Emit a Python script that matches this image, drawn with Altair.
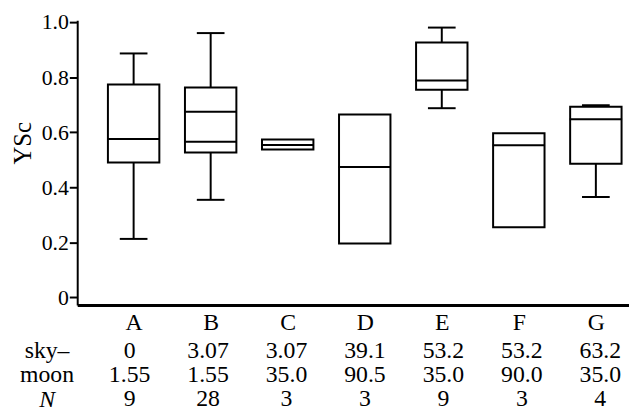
import altair as alt
import pandas as pd

cats = ["A", "B", "C", "D", "E", "F", "G"]
q1 = [0.490, 0.526, 0.537, 0.195, 0.754, 0.254, 0.485]
q3 = [0.773, 0.762, 0.573, 0.664, 0.926, 0.596, 0.692]
med = [0.575, 0.565, 0.553, 0.473, 0.788, 0.552, 0.647]
mean = [None, 0.674, None, None, None, None, None]
wlo = [0.212, 0.354, None, None, 0.687, None, 0.364]
whi = [0.886, 0.960, None, None, 0.980, None, 0.698]
sky = ["0", "3.07", "3.07", "39.1", "53.2", "53.2", "63.2"]
moon = ["1.55", "1.55", "35.0", "90.5", "35.0", "90.0", "35.0"]
nobs = ["9", "28", "3", "3", "9", "3", "4"]
row_names = ["sky–", "moon", "N"]
y_ticks = [0, 0.2, 0.4, 0.6, 0.8, 1.0]

FONT = "Liberation Serif"
pos = list(range(1, len(cats) + 1))
df = pd.DataFrame({"pos": pos, "cat": cats, "q1": q1, "q3": q3, "med": med,
                   "mean": mean, "wlo": wlo, "whi": whi})

rows = []
for i, p in enumerate(pos):
    for name, vals in zip(row_names, [sky, moon, nobs]):
        rows.append({"pos": p, "row": name, "val": vals[i]})
tdf = pd.DataFrame(rows)

W = 558
xs = alt.Scale(domain=[0.332, 7.366], nice=False, zero=False)
ys = alt.Scale(domain=[-0.028, 1.007], nice=False, zero=False)

label_expr = "[" + ",".join("'%s'" % c for c in cats) + "][datum.value - 1]"
xaxis = alt.Axis(values=pos, labelExpr=label_expr, ticks=False, grid=False,
                 domainWidth=3, domainColor="black", labelPadding=6,
                 labelFont=FONT, labelFontSize=24, labelColor="black", title=None)
yaxis = alt.Axis(values=y_ticks, grid=False, domainWidth=2, domainColor="black",
                 tickWidth=2, tickSize=8, tickColor="black", labelPadding=1,
                 labelFont=FONT, labelFontSize=22, labelColor="black",
                 labelExpr="datum.value == 0 ? '0' : format(datum.value, '.1f')",
                 title="YSc", titleFont=FONT, titleFontSize=25, titleFontWeight="normal",
                 titleColor="black", titlePadding=6, titleY=124)

base = alt.Chart(df).encode(x=alt.X("pos:Q", scale=xs, axis=xaxis))

box = base.mark_bar(size=52, fill="white", stroke="black", strokeWidth=2, opacity=1).encode(
    y=alt.Y("q1:Q", scale=ys, axis=yaxis, title="YSc"), y2="q3:Q")
med_l = base.mark_tick(orient="horizontal", size=53, thickness=2, color="black", opacity=1).encode(
    y=alt.Y("med:Q", title="YSc"))
mean_l = base.transform_filter("isValid(datum.mean)").mark_tick(
    orient="horizontal", size=53, thickness=2, color="black", opacity=1).encode(
    y=alt.Y("mean:Q", title="YSc"))
w_lo = base.transform_filter("isValid(datum.wlo)").mark_rule(strokeWidth=2, color="black").encode(
    y=alt.Y("wlo:Q", title="YSc"), y2="q1:Q")
w_hi = base.transform_filter("isValid(datum.whi)").mark_rule(strokeWidth=2, color="black").encode(
    y=alt.Y("q3:Q", title="YSc"), y2="whi:Q")
cap_lo = base.transform_filter("isValid(datum.wlo)").mark_tick(
    orient="horizontal", size=28, thickness=2, color="black", opacity=1).encode(
    y=alt.Y("wlo:Q", title="YSc"))
cap_hi = base.transform_filter("isValid(datum.whi)").mark_tick(
    orient="horizontal", size=28, thickness=2, color="black", opacity=1).encode(
    y=alt.Y("whi:Q", title="YSc"))

top = alt.layer(w_lo, w_hi, cap_lo, cap_hi, box, med_l, mean_l).properties(
    width=W, height=288)

table = alt.Chart(tdf).mark_text(font=FONT, fontSize=24, color="black").encode(
    x=alt.X("pos:Q", scale=xs, axis=None),
    y=alt.Y("row:N", sort=row_names, scale=alt.Scale(type="point", padding=0.5),
            axis=alt.Axis(title=None, domain=False, ticks=False, labelAlign="center",
                          labelPadding=31, labelFont=FONT, labelFontSize=24,
                          labelColor="black",
                          labelFontStyle={"condition": {"test": "datum.value === 'N'",
                                                        "value": "italic"},
                                          "value": "normal"})),
    text="val:N",
).properties(width=W, height=73.5)

chart = alt.vconcat(top, table, spacing=4).properties(
    padding={"left": 2, "top": 0, "right": 0, "bottom": 0}
).configure_view(stroke=None)

chart.save("out.html", embed_options={"renderer": "svg", "actions": False})
